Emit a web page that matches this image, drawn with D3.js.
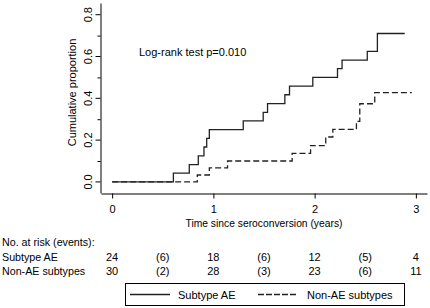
<!DOCTYPE html>
<html>
<head>
<meta charset="utf-8">
<script src="https://cdn.jsdelivr.net/npm/d3@7"></script>
<style>
body { margin: 0; background: #fff; }
svg { display: block; font-family: "Liberation Sans", Arial, sans-serif; }
</style>
</head>
<body>
<svg id="chart" width="430" height="308"></svg>
<script>
// step times (years) and cumulative proportion after each step
let aeTimes = [0.605, 0.762, 0.851, 0.907, 0.934, 0.96, 1.295, 1.492, 1.535, 1.706, 1.752, 1.982, 2.226, 2.271, 2.52, 2.62];
let aeCum = [0.042, 0.083, 0.125, 0.167, 0.208, 0.25, 0.292, 0.333, 0.375, 0.417, 0.458, 0.5, 0.542, 0.583, 0.625, 0.71];
let aeEnd = 2.89;

let nonTimes = [0.841, 0.96, 1.14, 1.778, 1.96, 2.11, 2.18, 2.413, 2.446, 2.594];
let nonCum = [0.033, 0.067, 0.1, 0.137, 0.174, 0.215, 0.251, 0.29, 0.374, 0.427];
let nonEnd = 2.96;

let xTicks = [0, 1, 2, 3];
let yTicks = [0, 0.2, 0.4, 0.6, 0.8];
let yMinor = [0.1, 0.3, 0.5, 0.7];

let riskLabels = ["Subtype AE", "Non-AE subtypes"];
let riskAt = [0, 0.5, 1, 1.5, 2, 2.5, 3];
let riskAE = ["24", "(6)", "18", "(6)", "12", "(5)", "4"];
let riskNon = ["30", "(2)", "28", "(3)", "23", "(6)", "11"];

let svg = d3.select("#chart");

let x = d3.scaleLinear().domain([-0.11, 3.11]).range([101, 427]);
let y = d3.scaleLinear().domain([-0.053, 0.856]).range([193, 3]);

function stepData(times, cum, end){
    let pts = [[0, 0]];
    times.forEach((t, i) => pts.push([t, cum[i]]));
    pts.push([end, cum[cum.length - 1]]);
    return pts;
}

let line = d3.line()
    .x(d => x(d[0]))
    .y(d => y(d[1]))
    .curve(d3.curveStepAfter);

// axes
let xAxis = svg.append("g")
    .attr("transform", "translate(0,193.5)")
    .call(d3.axisBottom(x).tickValues(xTicks).tickSize(5).tickSizeOuter(0).tickFormat(d3.format("d")));
xAxis.selectAll("text").attr("font-size", 11).attr("dy", "1.05em").attr("fill", "#000");

let yAxis = svg.append("g")
    .attr("transform", "translate(100.5,0)")
    .call(d3.axisLeft(y).tickValues(yTicks).tickSize(5).tickSizeOuter(0).tickFormat(d3.format(".1f")));
yAxis.selectAll("text")
    .attr("font-size", 11)
    .attr("fill", "#000")
    .attr("text-anchor", "middle")
    .attr("transform", d => "translate(" + (-12.5) + "," + y(d) + ") rotate(-90)")
    .attr("x", 0).attr("y", 0).attr("dy", "0.35em");
yAxis.selectAll(".tick").attr("transform", null);
yAxis.selectAll(".tick line").attr("transform", d => "translate(0," + y(d) + ")");

svg.append("g")
    .attr("transform", "translate(100.5,0)")
    .call(d3.axisLeft(y).tickValues(yMinor).tickSize(3).tickSizeOuter(0).tickFormat(""))
    .select(".domain").remove();

svg.selectAll(".domain, .tick line").attr("stroke", "#000");

// axis titles
svg.append("text")
    .attr("x", x(1.5)).attr("y", 227)
    .attr("text-anchor", "middle").attr("font-size", 10.3)
    .text("Time since seroconversion (years)");

svg.append("text")
    .attr("transform", "translate(76,92.5) rotate(-90)")
    .attr("text-anchor", "middle").attr("font-size", 11)
    .text("Cumulative proportion");

// curves
svg.append("path")
    .datum(stepData(nonTimes, nonCum, nonEnd))
    .attr("d", line)
    .attr("fill", "none")
    .attr("stroke", "#222")
    .attr("stroke-width", 1.3)
    .attr("stroke-dasharray", "6,3");

svg.append("path")
    .datum(stepData(aeTimes, aeCum, aeEnd))
    .attr("d", line)
    .attr("fill", "none")
    .attr("stroke", "#222")
    .attr("stroke-width", 1.3);

svg.append("text")
    .attr("x", 139).attr("y", 56)
    .attr("font-size", 11)
    .text("Log-rank test p=0.010");

// risk table
svg.append("text")
    .attr("x", 2).attr("y", 245.5)
    .attr("font-size", 10.7)
    .text("No. at risk (events):");

[riskAE, riskNon].forEach((row, r) => {
    let yy = 261 + r * 14;
    svg.append("text")
        .attr("x", 2).attr("y", yy)
        .attr("font-size", 10.7)
        .text(riskLabels[r]);
    svg.selectAll(null)
        .data(row)
        .enter()
        .append("text")
        .attr("x", (d, i) => x(riskAt[i]))
        .attr("y", yy)
        .attr("text-anchor", "middle")
        .attr("font-size", 11)
        .text(d => d);
});

// legend
let legend = svg.append("g");
legend.append("rect")
    .attr("x", 125.5).attr("y", 283.5)
    .attr("width", 279).attr("height", 22)
    .attr("fill", "none").attr("stroke", "#000");
legend.append("line")
    .attr("x1", 130).attr("x2", 170).attr("y1", 294.5).attr("y2", 294.5)
    .attr("stroke", "#222").attr("stroke-width", 1.3);
legend.append("text")
    .attr("x", 178).attr("y", 298.5).attr("font-size", 11)
    .text(riskLabels[0]);
legend.append("line")
    .attr("x1", 258).attr("x2", 296).attr("y1", 294.5).attr("y2", 294.5)
    .attr("stroke", "#222").attr("stroke-width", 1.3)
    .attr("stroke-dasharray", "6,2");
legend.append("text")
    .attr("x", 307).attr("y", 298.5).attr("font-size", 11)
    .text(riskLabels[1]);
</script>
</body>
</html>
